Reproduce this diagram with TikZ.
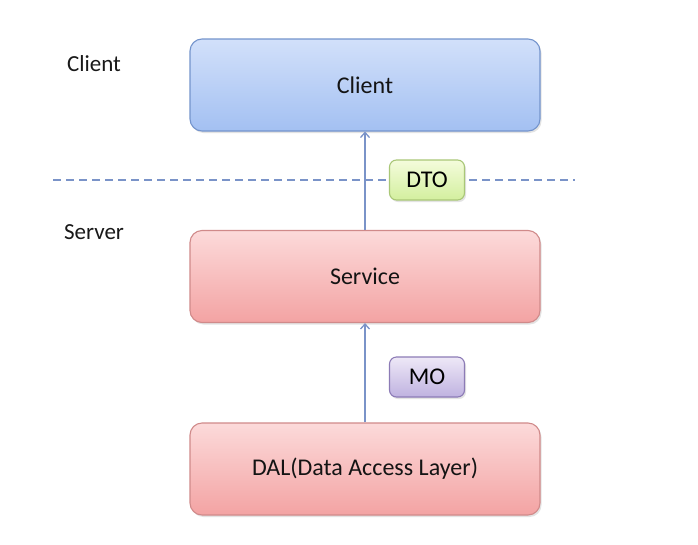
\documentclass[tikz,border=0pt]{standalone}
\usepackage{fontspec}
\setmainfont{Carlito}
\usepackage{tikz}
\usetikzlibrary{shadows,arrows.meta}

\definecolor{clientTop}{HTML}{D2E0FA}
\definecolor{clientBot}{HTML}{A3C0F2}
\definecolor{clientLine}{HTML}{7494CC}
\definecolor{serverTop}{HTML}{FCDADA}
\definecolor{serverBot}{HTML}{F3A3A3}
\definecolor{serverLine}{HTML}{D08A8A}
\definecolor{dtoTop}{HTML}{F4FCDC}
\definecolor{dtoBot}{HTML}{D3EF9E}
\definecolor{dtoLine}{HTML}{A9C777}
\definecolor{moTop}{HTML}{EEE8F7}
\definecolor{moBot}{HTML}{BFB2E0}
\definecolor{moLine}{HTML}{8C7BB6}
\definecolor{wire}{HTML}{7A93C8}

\tikzset{
	layer/.style={rectangle, rounded corners=12pt, minimum width=350pt, minimum height=92pt, line width=1.1pt, text=black!92, font=\fontsize{24}{28}\selectfont, drop shadow={opacity=0.22, shadow xshift=1.5pt, shadow yshift=-2pt}},
	tag/.style={rectangle, rounded corners=7pt, minimum width=75pt, minimum height=40pt, line width=1.1pt, text=black, font=\fontsize{24}{28}\selectfont, drop shadow={opacity=0.22, shadow xshift=1.5pt, shadow yshift=-2pt}},
	side/.style={text=black!90, font=\fontsize{23}{27}\selectfont}
}

\begin{document}
\begin{tikzpicture}[x=1pt,y=-1pt]
	\useasboundingbox[fill=white] (0,0) rectangle (698,544);
	
	% tiers
	\node[side] (clientside) at (94,64) {Client};
	\node[side] (serverside) at (94,232) {Server};
	\coordinate (cutL) at (53,180);
	\coordinate (cutR) at (575,180);
	\draw[wire, line width=1.3pt, dash pattern=on 8pt off 5pt] (cutL) -- (cutR);
	
	% boxes
	\node[layer, draw=clientLine, top color=clientTop, bottom color=clientBot] (client) at (365,85) {Client};
	\node[layer, draw=serverLine, top color=serverTop, bottom color=serverBot] (service) at (365,276.5) {Service};
	\node[layer, draw=serverLine, top color=serverTop, bottom color=serverBot] (dal) at (365,469) {DAL(Data Access Layer)};
	\node[tag, draw=dtoLine, top color=dtoTop, bottom color=dtoBot] (dto) at (427,180) {DTO};
	\node[tag, draw=moLine, top color=moTop, bottom color=moBot] (mo) at (427,377) {MO};
	
	% service to client
	\draw[wire,-{Straight Barb[length=5pt,width=9pt]},line width=1.3pt](service) to [out=90,in=270,looseness=0](client);
	% dal to service
	\draw[wire,-{Straight Barb[length=5pt,width=9pt]},line width=1.3pt](dal) to [out=90,in=270,looseness=0](service);
\end{tikzpicture}
\end{document}
